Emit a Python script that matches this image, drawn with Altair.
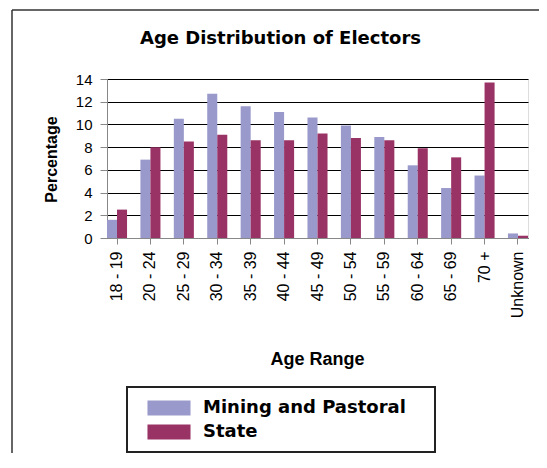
import altair as alt
import pandas as pd

categories = ["18 - 19", "20 - 24", "25 - 29", "30 - 34", "35 - 39", "40 - 44",
              "45 - 49", "50 - 54", "55 - 59", "60 - 64", "65 - 69", "70 +", "Unknown"]
series = ["Mining and Pastoral", "State"]
mining = [1.6, 6.9, 10.5, 12.7, 11.6, 11.1, 10.6, 9.9, 8.9, 6.4, 4.4, 5.5, 0.4]
state = [2.5, 8.0, 8.5, 9.1, 8.6, 8.6, 9.2, 8.8, 8.6, 7.9, 7.1, 13.7, 0.2]
colors = ["#9999CC", "#993366"]
y_ticks = [0, 2, 4, 6, 8, 10, 12, 14]

rows = []
for c, m, s in zip(categories, mining, state):
    rows.append({"Age": c, "Series": series[0], "Value": m})
    rows.append({"Age": c, "Series": series[1], "Value": s})
df = pd.DataFrame(rows)

FONT = "DejaVu Sans"

bars = alt.Chart(df).mark_bar(strokeWidth=0).encode(
    x=alt.X("Age:N", sort=categories,
            scale=alt.Scale(paddingInner=0.4, paddingOuter=0),
            axis=alt.Axis(title="Age Range", labelAngle=270, labelFontSize=16,
                          tickSize=6, labelPadding=7, grid=False,
                          titleFontSize=18, titleX=210, titleY=121,
                          titleBaseline="middle")),
    xOffset=alt.XOffset("Series:N", sort=series,
                        scale=alt.Scale(paddingInner=0, paddingOuter=0)),
    y=alt.Y("Value:Q", scale=alt.Scale(domain=[0, 14]),
            axis=alt.Axis(title="Percentage", values=y_ticks, labelFontSize=15,
                          tickSize=7, labelPadding=8, grid=True,
                          gridColor="#000000", gridWidth=1, gridOpacity=1,
                          titleFontSize=16, titleX=-56, titleY=80,
                          titleBaseline="middle")),
    color=alt.Color("Series:N", sort=series,
                    scale=alt.Scale(domain=series, range=colors),
                    legend=alt.Legend(title=None, orient="none", legendX=53, legendY=320,
                                      symbolType="M-2.87,-1H2.87V1H-2.87Z",
                                      symbolSize=225, symbolStrokeWidth=0,
                                      labelFontSize=18, labelFontWeight="bold",
                                      labelFont=FONT, labelColor="#000000",
                                      labelOffset=25, rowPadding=6, padding=0,
                                      labelLimit=400)),
)

one = pd.DataFrame({"k": [0]})
frame_left = alt.Chart(one).mark_rule(color="#333333", strokeWidth=1.5).encode(
    x=alt.value(-95), y=alt.value(-69), y2=alt.value(381))
frame_top = alt.Chart(one).mark_rule(color="#333333", strokeWidth=1.5).encode(
    x=alt.value(-95), x2=alt.value(432), y=alt.value(-69))
legend_box = alt.Chart(one).mark_rect(fillOpacity=0, stroke="#222222", strokeWidth=2).encode(
    x=alt.value(20), x2=alt.value(328), y=alt.value(308), y2=alt.value(373))

chart = alt.layer(bars, frame_left, frame_top, legend_box).properties(
    width=421, height=159,
    autosize=alt.AutoSizeParams(type="none"),
    padding={"left": 99, "top": 71, "right": 11, "bottom": 215},
    title=alt.TitleParams("Age Distribution of Electors", font=FONT, fontSize=18,
                          fontWeight="bold", color="#000000", anchor="middle",
                          frame="group", dx=-37, dy=89, offset=36, baseline="alphabetic"),
).configure_view(
    fill="#D3D3D3", stroke="#1a1a1a", strokeWidth=1.5
).configure_axis(
    labelFont=FONT, labelColor="#000000", tickColor="#000000", domainColor="#000000",
    titleFont=FONT, titleFontWeight="bold", titleColor="#000000"
).configure(background="#ffffff")

chart.save("out.html", embed_options={"renderer": "svg", "actions": False})
